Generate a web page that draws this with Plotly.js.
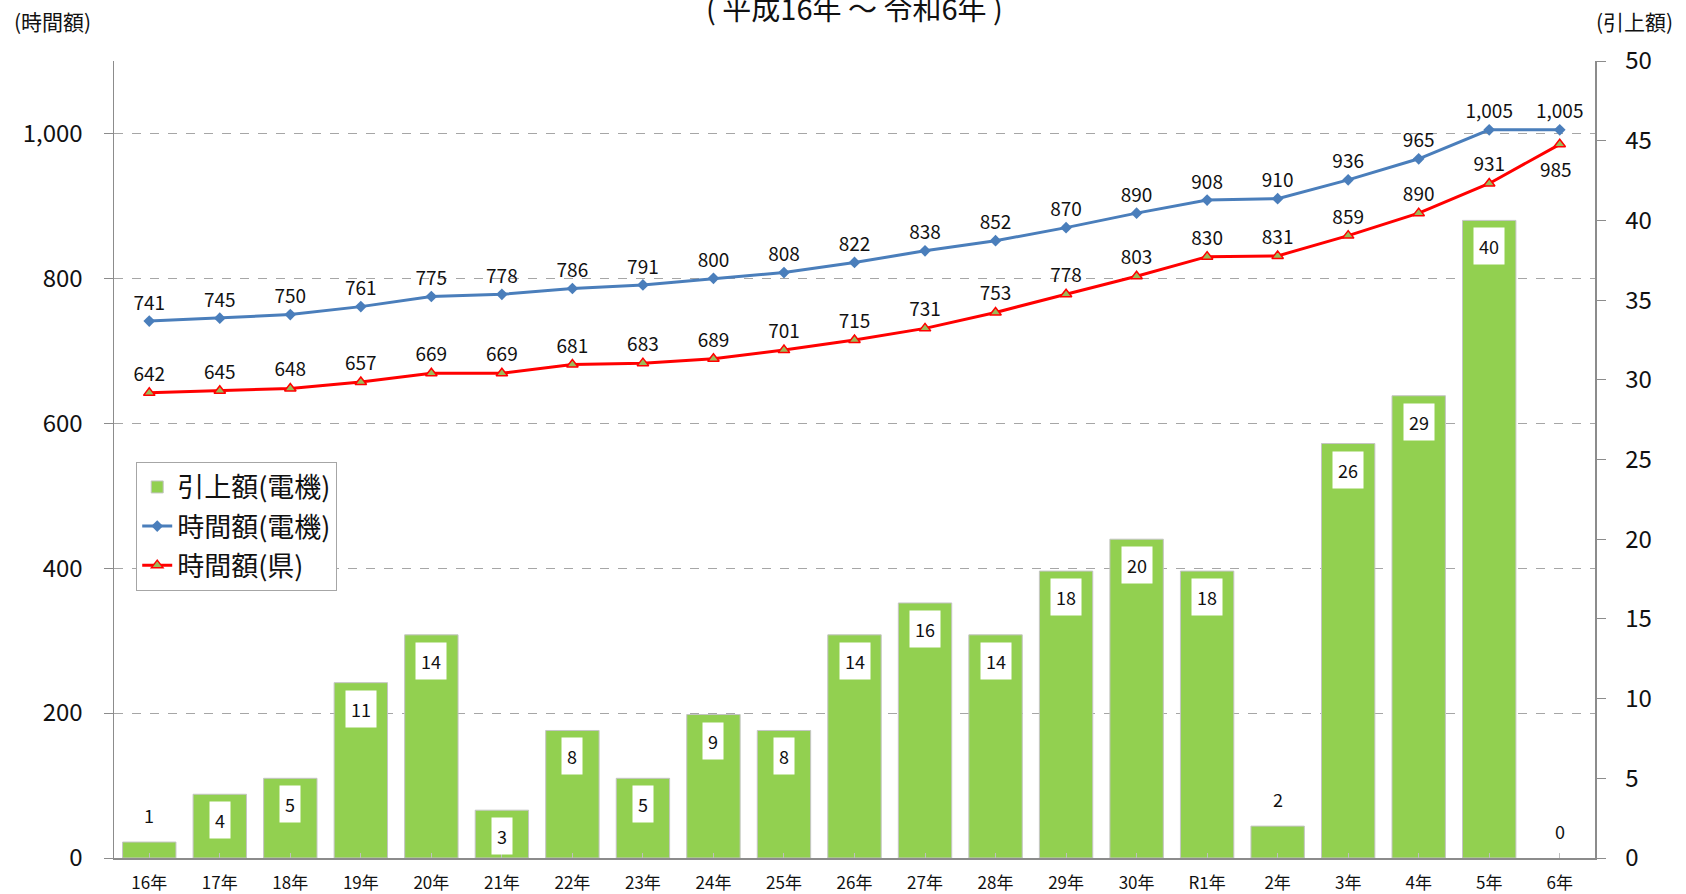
<!DOCTYPE html>
<html>
<head>
<meta charset="utf-8">
<script src="https://cdn.plot.ly/plotly-3.0.1.min.js"></script>
<style>
html,body{margin:0;padding:0;background:#fff;}
#chart{width:1686px;height:894px;}
</style>
</head>
<body>
<div id="chart"></div>
<script>
const categories = ['16年','17年','18年','19年','20年','21年','22年','23年','24年','25年','26年','27年','28年','29年','30年','R1年','2年','3年','4年','5年','6年'];
const raiseElec = [1,4,5,11,14,3,8,5,9,8,14,16,14,18,20,18,2,26,29,40,0];
const hourlyElec = [741,745,750,761,775,778,786,791,800,808,822,838,852,870,890,908,910,936,965,1005,1005];
const hourlyPref = [642,645,648,657,669,669,681,683,689,701,715,731,753,778,803,830,831,859,890,931,985];
const seriesNames = ['引上額(電機)','時間額(電機)','時間額(県)'];
const leftTicks = [0,200,400,600,800,1000];
const rightTicks = [0,5,10,15,20,25,30,35,40,45,50];

const FONT = '"Noto Sans CJK JP", "Noto Sans", sans-serif';
const fmt = v => v.toLocaleString('en-US');
const lastIdx = hourlyPref.length - 1;

const traces = [
  {
    type:'bar', name:seriesNames[0], x:categories, y:raiseElec, yaxis:'y2',
    marker:{color:'#92D050', line:{color:raiseElec.map(v=> v>0 ? '#C4C4C4' : 'rgba(0,0,0,0)'), width:1}},
    legendgroup:'a', hoverinfo:'skip'
  },
  {
    type:'scatter', mode:'lines+markers+text', name:seriesNames[1], x:categories, y:hourlyElec,
    line:{color:'#4A7EBB', width:3},
    marker:{symbol:'diamond', size:9, color:'#4A7EBB'},
    texttemplate:'%{y:,}', textposition:'top center',
    textfont:{size:19, color:'#111', family:FONT},
    legendgroup:'b', hoverinfo:'skip', cliponaxis:false
  },
  {
    type:'scatter', mode:'lines+markers+text', name:seriesNames[2], x:categories, y:hourlyPref,
    line:{color:'#FF0000', width:3},
    marker:{symbol:'triangle-up', size:10, color:'#9BBB59', line:{color:'#FF0000', width:1.5}},
    texttemplate: hourlyPref.map((v,i)=> i===lastIdx ? '' : '%{y:,}'),
    textposition:'top center',
    textfont:{size:19, color:'#111', family:FONT},
    legendgroup:'c', hoverinfo:'skip', cliponaxis:false
  }
];

const barAnns = raiseElec.map((v,i)=> {
  const inside = v >= 3;
  return {
    x:categories[i], y:v, xref:'x', yref:'y2', text:String(v), showarrow:false,
    yanchor:'middle', yshift: inside ? -26 : 27,
    bgcolor: inside ? '#FFFFFF' : 'rgba(0,0,0,0)', borderpad:5,
    font:{size:18, color:'#111', family:FONT}
  };
});

const lastPrefAnn = {
  x:categories[lastIdx], y:hourlyPref[lastIdx], xref:'x', yref:'y', text:fmt(hourlyPref[lastIdx]),
  showarrow:false, yanchor:'middle', yshift:-24, xshift:-4,
  font:{size:19, color:'#111', family:FONT}
};

const layout = {
  width:1686, height:894,
  margin:{l:114, r:91, t:61, b:36, pad:0},
  paper_bgcolor:'#fff', plot_bgcolor:'#fff',
  font:{family:FONT, color:'#111'},
  bargap:0.243,
  showlegend:true,
  legend:{
    x:0.015, y:0.497, xanchor:'left', yanchor:'top',
    bgcolor:'#fff', bordercolor:'#A6A6A6', borderwidth:1,
    font:{size:27, color:'#111', family:FONT},
    tracegroupgap:1, traceorder:'grouped'
  },
  xaxis:{
    type:'category', range:[-0.5, categories.length-0.5],
    showgrid:false, showline:true, linecolor:'#8C8C8C', linewidth:2,
    ticks:'inside', ticklen:5, tickcolor:'#BFBFBF',
    tickfont:{size:17, color:'#111', family:FONT}, ticklabelstandoff:9,
    zeroline:false, fixedrange:true
  },
  yaxis:{
    range:[0,1100], tickvals:leftTicks, ticktext:leftTicks.map(fmt),
    showgrid:true, gridcolor:'#A6A6A6', griddash:'dash', gridwidth:1,
    showline:true, linecolor:'#8C8C8C', linewidth:1.5,
    ticks:'outside', ticklen:9, tickcolor:'#8C8C8C',
    tickfont:{size:24, color:'#111', family:FONT}, ticklabelstandoff:16,
    zeroline:false, fixedrange:true
  },
  yaxis2:{
    overlaying:'y', side:'right', range:[0,50], tickvals:rightTicks,
    showgrid:false, showline:true, linecolor:'#8C8C8C', linewidth:1.5,
    ticks:'outside', ticklen:9, tickcolor:'#8C8C8C',
    tickfont:{size:24, color:'#111', family:FONT}, ticklabelstandoff:15,
    zeroline:false, fixedrange:true
  },
  annotations:[
    {xref:'paper', yref:'paper', x:0.5, y:1+(61-7)/797, xanchor:'center', yanchor:'middle',
     text:'( 平成16年 ～ 令和6年 )', showarrow:false, font:{size:29, color:'#111', family:FONT}},
    {xref:'paper', yref:'paper', x:(52-114)/1481, y:1+(61-21)/797, xanchor:'center', yanchor:'middle',
     text:'(時間額)', showarrow:false, font:{size:21, color:'#111', family:FONT}},
    {xref:'paper', yref:'paper', x:(1634-114)/1481, y:1+(61-21)/797, xanchor:'center', yanchor:'middle',
     text:'(引上額)', showarrow:false, font:{size:21, color:'#111', family:FONT}},
    lastPrefAnn
  ].concat(barAnns)
};

Plotly.newPlot('chart', traces, layout, {staticPlot:true, displayModeBar:false});
</script>
</body>
</html>
